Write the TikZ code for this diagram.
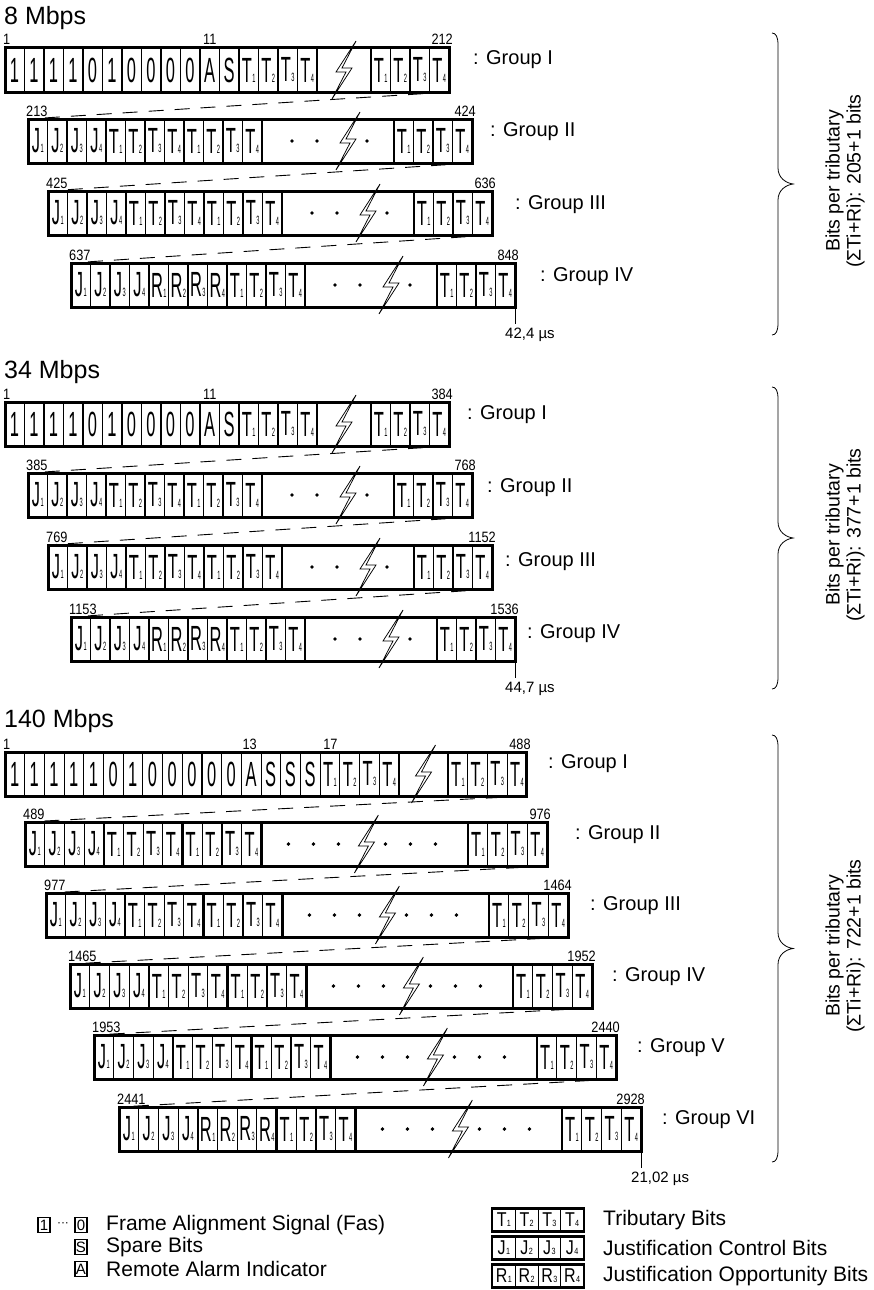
\documentclass[tikz,border=0pt]{standalone}
\usepackage{fontspec}
\setmainfont{Liberation Sans}
\usetikzlibrary{calc}

\newcommand\cl[2]{\scalebox{0.47}[1]{\fontsize{35pt}{35pt}\selectfont #1\kern1pt\fontsize{12pt}{12pt}\selectfont #2}}
\newcommand\lcl[2]{\scalebox{0.8}[1]{\fontsize{20pt}{20pt}\selectfont #1\kern0.5pt\fontsize{9pt}{9pt}\selectfont #2}}
\newcommand\nm[1]{\scalebox{0.85}[1]{#1}}

\tikzset{
  cellbox/.style={draw, line width=1.1pt, minimum height=44pt, inner sep=0pt, outer sep=0pt, anchor=north west},
  frame/.style={line width=3pt},
  divider/.style={line width=2.4pt},
  link/.style={line width=0.9pt, dash pattern=on 15pt off 11pt},
  boltshape/.style={fill=white, draw=black, line width=0.75pt, line join=miter},
  grp/.style={font=\fontsize{20pt}{24pt}\selectfont, inner sep=0pt, anchor=west},
  num/.style={font=\fontsize{15pt}{18pt}\selectfont, inner sep=0pt},
  ttl/.style={font=\fontsize{25pt}{30pt}\selectfont, inner sep=0pt, anchor=base west},
  tm/.style={font=\fontsize{15pt}{18pt}\selectfont, inner sep=0pt, anchor=north west},
  tick/.style={line width=1pt},
  brc/.style={line width=0.8pt},
  brtext/.style={font=\fontsize{19.5pt}{21pt}\selectfont, inner sep=0pt, rotate=90, align=center},
  lbox/.style={draw, line width=1.4pt, minimum width=12pt, minimum height=15pt, inner sep=0pt, font=\fontsize{15pt}{15pt}\selectfont},
  lcell/.style={draw, line width=1pt, minimum width=22.75pt, minimum height=22pt, inner sep=0pt, anchor=west},
  legtxt/.style={font=\fontsize{21pt}{24pt}\selectfont, inner sep=0pt, anchor=west}
}

\newcommand\cells[5]{%
  \foreach \l/\s [count=\i from 0] in {#5} {
    \node[cellbox, minimum width=#4pt] (#1-\i) at ({#2+\i*#4}, #3) {\cl{\l}{\s}};
  }%
}

\newcommand\firstrow[7]{%
  \cells{#1a}{#2}{#3}{#4}{#7}%
  \pgfmathsetmacro\gx{#2+#5*#4}%
  \pgfmathsetmacro\rx{\gx+#6}%
  \pgfmathsetmacro\ex{\rx+4*#4}%
  \cells{#1b}{\rx}{#3}{#4}{T/1,T/2,T/3,T/4}%
  \coordinate (#1-tl) at (#2,#3);
  \coordinate (#1-tr) at (\ex,#3);
  \coordinate (#1-br) at (\ex,#3+44);
  \coordinate (#1-bolt) at (\gx+#6/2,#3+22);
  \draw[divider] (\gx,#3) -- ++(0,44);
  \draw[divider] (\rx,#3) -- ++(0,44);
  \draw[frame] (#1-tl) rectangle (#1-br);
}

\newcommand\bigrow[8]{%
  \cells{#1a}{#2}{#3}{#4}{#6}%
  \pgfmathsetmacro\bx{#2+12*#4}%
  \pgfmathsetmacro\rx{\bx+#5}%
  \pgfmathsetmacro\ex{\rx+4*#4}%
  \node[cellbox, minimum width=#5pt] (#1-big) at (\bx,#3) {};
  \cells{#1b}{\rx}{#3}{#4}{T/1,T/2,T/3,T/4}%
  \coordinate (#1-tl) at (#2,#3);
  \coordinate (#1-tr) at (\ex,#3);
  \coordinate (#1-br) at (\ex,#3+44);
  \coordinate (#1-bolt) at (\bx+#8,#3+22);
  \foreach \d in {#7} \fill (\bx+\d,#3+22) circle (1.9pt);
  \draw[divider] (#2+4*#4,#3) -- ++(0,44);
  \draw[divider] (#2+8*#4,#3) -- ++(0,44);
  \draw[divider] (\bx,#3) -- ++(0,44);
  \draw[line width=1.6pt] (\rx,#3) -- ++(0,44);
  \draw[frame] (#1-tl) rectangle (#1-br);
}

\newcommand\boltat[1]{\filldraw[boltshape, shift={(#1)}] (12,-29) -- (-2,-2) -- (8,-2) -- (-12,29) -- (2,2) -- (-8,2) -- cycle;}

\newcommand\bitnums[3]{%
  \node[num, anchor=base west] (#1-sn) at ([xshift=-2pt,yshift=3pt]#1-tl) {\nm{#2}};
  \node[num, anchor=base east] (#1-en) at ([xshift=4pt,yshift=3pt]#1-tr) {\nm{#3}};
}

\newcommand\bracer[2]{%
  \pgfmathsetmacro\bT{#1}\pgfmathsetmacro\bB{#2}\pgfmathsetmacro\bM{(#1+#2)/2}%
  \draw[brc] (772,\bT) .. controls (776,\bT) and (778,\bT+4) .. (778,\bT+12) -- (778,\bM-16) .. controls (778,\bM-6) and (786,\bM-1) .. (793,\bM) .. controls (786,\bM+1) and (778,\bM+6) .. (778,\bM+16) -- (778,\bB-12) .. controls (778,\bB-4) and (776,\bB) .. (772,\bB);
}

\newcommand\legrow[3]{%
  \foreach \k in {1,...,4} \node[lcell] (#1-\k) at ({492+(\k-1)*22.75}, #2) {\lcl{#3}{\k}};
  \draw[line width=2.4pt] (#1-1.north west) rectangle (#1-4.south east);
}

\begin{document}
\begin{tikzpicture}[x=1pt,y=-1pt]
\useasboundingbox (0,0) rectangle (873,1290);

% titles
\node[ttl] (t8) at (4,25) {8 Mbps};
\node[ttl] (t34) at (4,378) {34 Mbps};
\node[ttl] (t140) at (4,727) {140 Mbps};

% ---------- 8 Mbps ----------
\firstrow{e1}{5}{48}{19.5}{16}{54}{1/{},1/{},1/{},1/{},0/{},1/{},0/{},0/{},0/{},0/{},A/{},S/{},T/1,T/2,T/3,T/4}
\bigrow{e2}{28}{119}{19.5}{132}{J/1,J/2,J/3,J/4,T/1,T/2,T/3,T/4,T/1,T/2,T/3,T/4}{30,55,105}{86}
\bigrow{e3}{48}{191}{19.5}{132}{J/1,J/2,J/3,J/4,T/1,T/2,T/3,T/4,T/1,T/2,T/3,T/4}{30,55,105}{86}
\bigrow{e4}{71}{263}{19.5}{132}{J/1,J/2,J/3,J/4,R/1,R/2,R/3,R/4,T/1,T/2,T/3,T/4}{30,55,105}{86}

% ---------- 34 Mbps ----------
\firstrow{f1}{5}{402}{19.5}{16}{54}{1/{},1/{},1/{},1/{},0/{},1/{},0/{},0/{},0/{},0/{},A/{},S/{},T/1,T/2,T/3,T/4}
\bigrow{f2}{28}{473}{19.5}{132}{J/1,J/2,J/3,J/4,T/1,T/2,T/3,T/4,T/1,T/2,T/3,T/4}{30,55,105}{86}
\bigrow{f3}{48}{545}{19.5}{132}{J/1,J/2,J/3,J/4,T/1,T/2,T/3,T/4,T/1,T/2,T/3,T/4}{30,55,105}{86}
\bigrow{f4}{71}{617}{19.5}{132}{J/1,J/2,J/3,J/4,R/1,R/2,R/3,R/4,T/1,T/2,T/3,T/4}{30,55,105}{86}

% ---------- 140 Mbps ----------
\firstrow{g1}{5}{752}{19.7}{20}{49}{1/{},1/{},1/{},1/{},1/{},0/{},1/{},0/{},0/{},0/{},0/{},0/{},A/{},S/{},S/{},S/{},T/1,T/2,T/3,T/4}
\bigrow{g2}{25}{822}{19.7}{206.8}{J/1,J/2,J/3,J/4,T/1,T/2,T/3,T/4,T/1,T/2,T/3,T/4}{27,52,77,124,149,174}{105}
\bigrow{g3}{46}{893}{19.7}{206.8}{J/1,J/2,J/3,J/4,T/1,T/2,T/3,T/4,T/1,T/2,T/3,T/4}{27,52,77,124,149,174}{105}
\bigrow{g4}{70}{964}{19.7}{206.8}{J/1,J/2,J/3,J/4,T/1,T/2,T/3,T/4,T/1,T/2,T/3,T/4}{27,52,77,124,149,174}{105}
\bigrow{g5}{94}{1035}{19.7}{206.8}{J/1,J/2,J/3,J/4,T/1,T/2,T/3,T/4,T/1,T/2,T/3,T/4}{27,52,77,124,149,174}{105}
\bigrow{g6}{119}{1107}{19.7}{206.8}{J/1,J/2,J/3,J/4,R/1,R/2,R/3,R/4,T/1,T/2,T/3,T/4}{27,52,77,124,149,174}{105}

% dashed links
\draw[link] (e1-br) -- (e2-tl);
\draw[link] (e2-br) -- (e3-tl);
\draw[link] (e3-br) -- (e4-tl);
\draw[link] (f1-br) -- (f2-tl);
\draw[link] (f2-br) -- (f3-tl);
\draw[link] (f3-br) -- (f4-tl);
\draw[link] (g1-br) -- (g2-tl);
\draw[link] (g2-br) -- (g3-tl);
\draw[link] (g3-br) -- (g4-tl);
\draw[link] (g4-br) -- (g5-tl);
\draw[link] (g5-br) -- (g6-tl);

% bolts
\foreach \b in {e1,e2,e3,e4,f1,f2,f3,f4,g1,g2,g3,g4,g5,g6} {\boltat{\b-bolt}}

% bit numbers
\bitnums{e1}{1}{212}
\bitnums{e2}{213}{424}
\bitnums{e3}{425}{636}
\bitnums{e4}{637}{848}
\bitnums{f1}{1}{384}
\bitnums{f2}{385}{768}
\bitnums{f3}{769}{1152}
\bitnums{f4}{1153}{1536}
\bitnums{g1}{1}{488}
\bitnums{g2}{489}{976}
\bitnums{g3}{977}{1464}
\bitnums{g4}{1465}{1952}
\bitnums{g5}{1953}{2440}
\bitnums{g6}{2441}{2928}
\node[num, anchor=base west] (e1-n11) at ([xshift=3pt,yshift=3pt]e1a-10.north west) {\nm{11}};
\node[num, anchor=base west] (f1-n11) at ([xshift=3pt,yshift=3pt]f1a-10.north west) {\nm{11}};
\node[num, anchor=base west] (g1-n13) at ([xshift=1pt,yshift=3pt]g1a-12.north west) {\nm{13}};
\node[num, anchor=base west] (g1-n17) at ([xshift=3pt,yshift=3pt]g1a-16.north west) {\nm{17}};

% group labels
\node[grp] (le1) at (473,60) {: Group I};
\node[grp] (le2) at (490,132) {: Group II};
\node[grp] (le3) at (515,205) {: Group III};
\node[grp] (le4) at (540,277) {: Group IV};
\node[grp] (lf1) at (467,415) {: Group I};
\node[grp] (lf2) at (487,488) {: Group II};
\node[grp] (lf3) at (505,562) {: Group III};
\node[grp] (lf4) at (527,634) {: Group IV};
\node[grp] (lg1) at (548,764) {: Group I};
\node[grp] (lg2) at (575,835) {: Group II};
\node[grp] (lg3) at (590,906) {: Group III};
\node[grp] (lg4) at (612,977) {: Group IV};
\node[grp] (lg5) at (637,1048) {: Group V};
\node[grp] (lg6) at (662,1120) {: Group VI};

% timing ticks
\draw[tick] (e4-br) -- ++(0,17) coordinate (e4-tk);
\node[tm] (e4-time) at ([xshift=-10pt,yshift=-4pt]e4-tk) {42,4 µs};
\draw[tick] (f4-br) -- ++(0,17) coordinate (f4-tk);
\node[tm] (f4-time) at ([xshift=-10pt,yshift=-4pt]f4-tk) {44,7 µs};
\draw[tick] (g6-br) -- ++(0,17) coordinate (g6-tk);
\node[tm] (g6-time) at ([xshift=-10pt,yshift=-4pt]g6-tk) {21,02 µs};

% braces
\bracer{33}{335}
\node[brtext] (b8) at (845,181) {Bits per tributary\\(ΣTi+Ri): 205+1 bits};
\bracer{387}{689}
\node[brtext] (b34) at (845,535) {Bits per tributary\\(ΣTi+Ri): 377+1 bits};
\bracer{735}{1162}
\node[brtext] (b140) at (845,946) {Bits per tributary\\(ΣTi+Ri): 722+1 bits};

% legend left
\node[lbox] (lgone) at (44,1225) {1};
\node[font=\fontsize{12pt}{12pt}\selectfont, inner sep=0pt] (lgdots) at (63,1225) {\textperiodcentered\textperiodcentered\textperiodcentered};
\node[lbox] (lgzero) at (81,1225) {0};
\node[legtxt] (lgt1) at (106,1225) {Frame Alignment Signal (Fas)};
\node[lbox] (lgS) at (81,1247) {S};
\node[legtxt] (lgt2) at (106,1247) {Spare Bits};
\node[lbox] (lgA) at (81,1269) {A};
\node[legtxt] (lgt3) at (106,1269) {Remote Alarm Indicator};

% legend right
\legrow{lT}{1220}{T}
\node[legtxt] (lgt4) at (603,1220) {Tributary Bits};
\legrow{lJ}{1248}{J}
\node[legtxt] (lgt5) at (603,1248) {Justification Control Bits};
\legrow{lR}{1276}{R}
\node[legtxt] (lgt6) at (603,1276) {Justification Opportunity Bits};

\end{tikzpicture}
\end{document}
